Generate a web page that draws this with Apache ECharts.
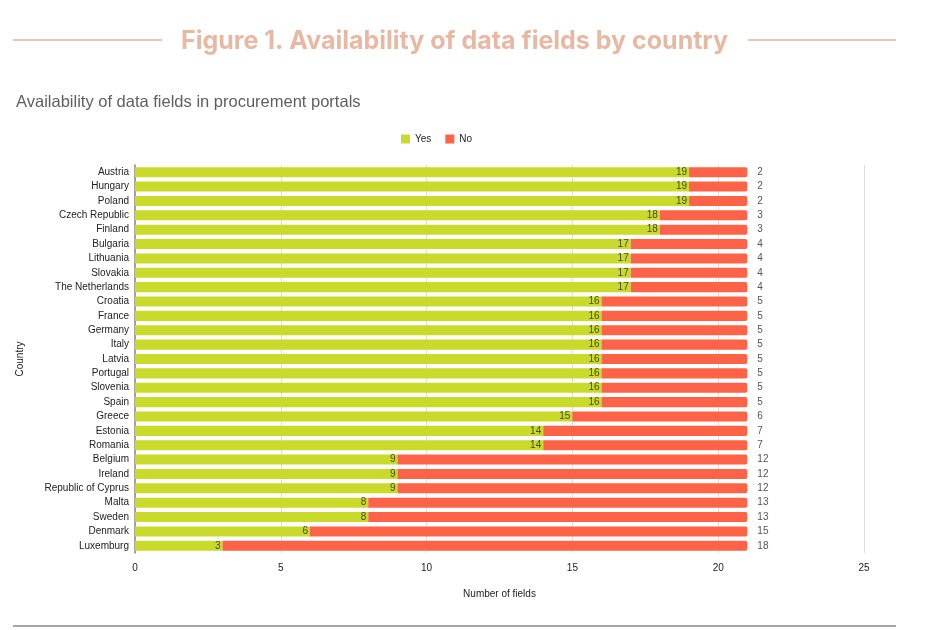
<!DOCTYPE html>
<html>
<head>
<meta charset="utf-8">
<style>
  html, body { margin: 0; padding: 0; background: #fff; }
  #chart { width: 930px; height: 630px; }
</style>
<script src="https://cdn.jsdelivr.net/npm/echarts@6/dist/echarts.min.js"></script>
</head>
<body>
<div id="chart"></div>
<script>
let countries = ['Austria', 'Hungary', 'Poland', 'Czech Republic', 'Finland', 'Bulgaria', 'Lithuania',
  'Slovakia', 'The Netherlands', 'Croatia', 'France', 'Germany', 'Italy', 'Latvia', 'Portugal',
  'Slovenia', 'Spain', 'Greece', 'Estonia', 'Romania', 'Belgium', 'Ireland', 'Republic of Cyprus',
  'Malta', 'Sweden', 'Denmark', 'Luxemburg']
let yes = [19, 19, 19, 18, 18, 17, 17, 17, 17, 16, 16, 16, 16, 16, 16, 16, 16, 15, 14, 14, 9, 9, 9, 8, 8, 6, 3]
let no = [2, 2, 2, 3, 3, 4, 4, 4, 4, 5, 5, 5, 5, 5, 5, 5, 5, 6, 7, 7, 12, 12, 12, 13, 13, 15, 18]

let font = 'Liberation Sans, Arial, sans-serif'
let myChart = echarts.init(document.getElementById('chart'))
let option = {
  animation: false,
  title: [{
    text: 'Figure 1. Availability of data fields by country',
    left: 176,
    top: 24,
    textStyle: { color: '#e7b9a3', fontSize: 25, fontWeight: 'bold', fontFamily: 'Inter, sans-serif' }
  }, {
    text: 'Availability of data fields in procurement portals',
    left: 11,
    top: 89,
    textStyle: { color: '#5f5f5f', fontSize: 16.5, fontWeight: 'normal', fontFamily: font }
  }],
  graphic: [
    { type: 'line', shape: { x1: 13, y1: 40, x2: 162, y2: 40 }, style: { stroke: '#e9c6b6', lineWidth: 2 } },
    { type: 'line', shape: { x1: 748, y1: 40, x2: 896, y2: 40 }, style: { stroke: '#e9c6b6', lineWidth: 2 } },
    { type: 'line', shape: { x1: 13, y1: 626, x2: 896, y2: 626 }, style: { stroke: '#a6a6a6', lineWidth: 2 } }
  ],
  legend: {
    top: 129,
    left: 396,
    itemWidth: 9,
    itemHeight: 9,
    itemGap: 14,
    icon: 'rect',
    textStyle: { fontSize: 10, color: '#222', fontFamily: font },
    data: ['Yes', 'No']
  },
  grid: { left: 135, right: 66, top: 165, bottom: 77, containLabel: false },
  xAxis: {
    type: 'value',
    min: 0,
    max: 25,
    interval: 5,
    name: 'Number of fields',
    nameLocation: 'middle',
    nameGap: 36,
    nameTextStyle: { fontSize: 10, color: '#222', fontFamily: font },
    axisLine: { show: false },
    axisTick: { show: false },
    axisLabel: { fontSize: 10, color: '#222', fontFamily: font, margin: 10 },
    splitLine: { lineStyle: { color: '#dcdcdc' } }
  },
  yAxis: {
    type: 'category',
    inverse: true,
    data: countries,
    name: 'Country',
    nameLocation: 'middle',
    nameGap: 110,
    nameTextStyle: { fontSize: 10, color: '#222', fontFamily: font },
    axisLine: { lineStyle: { color: '#888', width: 1.5 } },
    axisTick: { show: false },
    axisLabel: { fontSize: 10, color: '#222', fontFamily: font, margin: 6 }
  },
  series: [{
    name: 'Yes',
    type: 'bar',
    stack: 'total',
    data: yes,
    barCategoryGap: '30%',
    itemStyle: { color: '#c9da2a' },
    label: { show: true, position: 'insideRight', distance: 2, fontSize: 10, color: '#4a4a2a', fontFamily: font }
  }, {
    name: 'No',
    type: 'bar',
    stack: 'total',
    data: no,
    barCategoryGap: '30%',
    itemStyle: { color: '#ff6347', borderRadius: [0, 2, 2, 0] },
    label: { show: true, position: 'right', distance: 10, fontSize: 10, color: '#555', fontFamily: font }
  }]
}
myChart.setOption(option)
</script>
</body>
</html>
